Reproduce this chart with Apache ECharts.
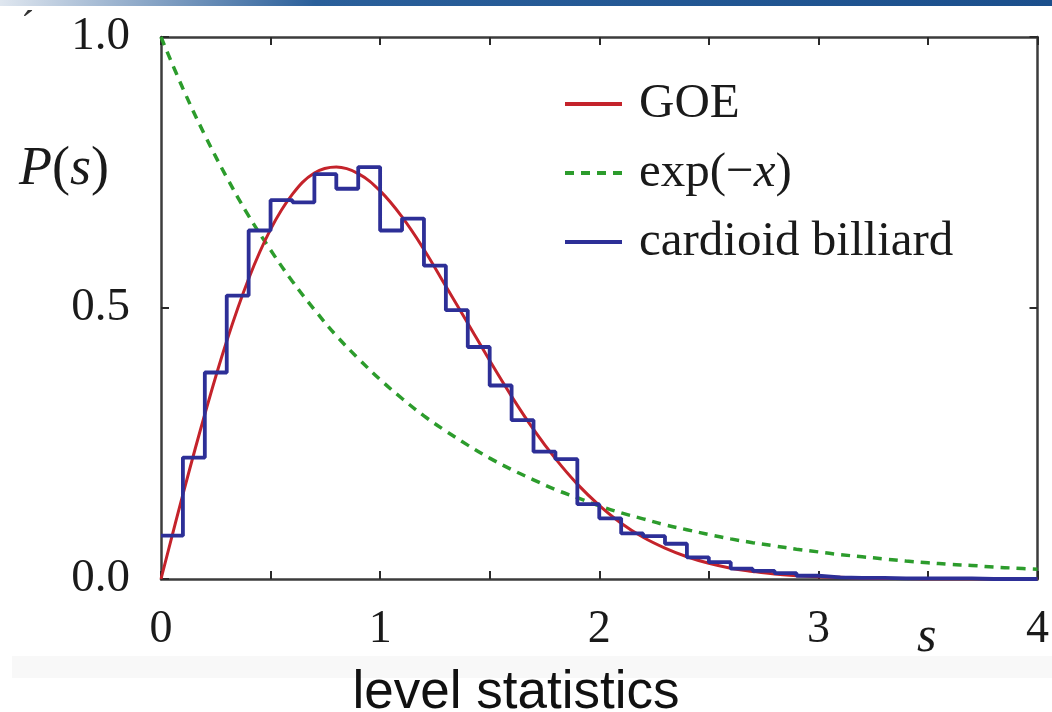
<!DOCTYPE html>
<html>
<head>
<meta charset="utf-8">
<script src="https://cdn.jsdelivr.net/npm/echarts@6/dist/echarts.min.js"></script>
<style>
  html, body { margin: 0; padding: 0; background: #ffffff; }
  #chart { width: 1052px; height: 712px; }
</style>
</head>
<body>
<div id="chart"></div>
<script>
// ---- data ----
const seriesNames = ['GOE', 'exp(−x)', 'cardioid billiard'];
// sample positions for the two smooth curves
const curveS = [0,0.1,0.2,0.3,0.4,0.5,0.6,0.7,0.8,0.9,1.0,1.1,1.2,1.3,1.4,1.5,1.6,1.7,1.8,1.9,2.0,
                2.1,2.2,2.3,2.4,2.5,2.6,2.7,2.8,2.9,3.0,3.1,3.2,3.3,3.4,3.5,3.6,3.7,3.8,3.9,4.0];
const goeValues = [0,0.156,0.304,0.439,0.554,0.645,0.710,0.749,0.760,0.748,0.716,0.668,0.608,0.540,0.472,
                   0.403,0.337,0.276,0.222,0.175,0.136,0.103,0.077,0.057,0.041,0.029,0.020,0.014,0.009,
                   0.006,0.004,0.003,0.002,0.001,0.001,0,0,0,0,0,0];
const expValues = [1.000,0.905,0.819,0.741,0.670,0.607,0.549,0.497,0.449,0.407,0.368,0.333,0.301,0.273,
                   0.247,0.223,0.202,0.183,0.165,0.150,0.135,0.122,0.111,0.100,0.091,0.082,0.074,0.067,
                   0.061,0.055,0.050,0.045,0.041,0.037,0.033,0.030,0.027,0.025,0.022,0.020,0.018];
// histogram bins (width 0.1) from s = 0 to 4
const binWidth = 0.1;
const histValues = [0.080,0.224,0.381,0.523,0.643,0.699,0.695,0.747,0.720,0.760,
                    0.643,0.665,0.578,0.496,0.428,0.357,0.293,0.235,0.221,0.138,
                    0.112,0.084,0.079,0.065,0.040,0.031,0.019,0.015,0.011,0.006,
                    0.003,0.002,0.002,0.001,0.001,0.001,0.001,0,0,0];
const xTicks = [0,1,2,3,4];
const yTicks = ['0.0','0.5','1.0'];

// ---- build series data ----
const goeData = curveS.map((s, i) => [s, goeValues[i]]);
const expData = curveS.map((s, i) => [s, expValues[i]]);
const histData = histValues.map((v, i) => [+(i * binWidth).toFixed(2), v]);
histData.push([+(histValues.length * binWidth).toFixed(2), histValues[histValues.length - 1]]);

const SERIF = '"Liberation Serif", "DejaVu Serif", serif';
const FRAME = '#3c3c3c';
const RED = '#c4232b', GREEN = '#2c9c2c', BLUE = '#2d2f97';

const chart = echarts.init(document.getElementById('chart'), null, { renderer: 'canvas' });

const tickStyle = { show: true, inside: true, length: 8, lineStyle: { color: '#2a2a2a', width: 2 } };
const lineStyleAxis = { show: true, onZero: false, lineStyle: { color: FRAME, width: 2.5 } };

const solidIcon = 'path://M0,0H57V4H0Z';
const dashIcon = 'path://M0,0H9V4H0Z M16,0H25V4H16Z M32,0H41V4H32Z M48,0H57V4H48Z';

chart.setOption({
  backgroundColor: '#ffffff',
  animation: false,
  grid: { left: 161, right: 14, top: 37, bottom: 133, containLabel: false },
  xAxis: [
    {
      type: 'value', position: 'bottom', min: 0, max: 4, interval: 0.5,
      axisLine: lineStyleAxis, axisTick: tickStyle, splitLine: { show: false },
      axisLabel: {
        margin: 28, color: '#1a1a1a', fontFamily: SERIF, fontSize: 46,
        formatter: v => (xTicks.indexOf(v) >= 0 ? String(v) : '')
      }
    },
    {
      type: 'value', position: 'top', min: 0, max: 4, interval: 0.5,
      axisLine: lineStyleAxis, axisTick: tickStyle, splitLine: { show: false },
      axisLabel: { show: false }
    }
  ],
  yAxis: [
    {
      type: 'value', position: 'left', min: 0, max: 1, interval: 0.5,
      axisLine: lineStyleAxis, axisTick: tickStyle, splitLine: { show: false },
      axisLabel: {
        margin: 31, color: '#1a1a1a', fontFamily: SERIF, fontSize: 47,
        formatter: v => { const t = v.toFixed(1); return yTicks.indexOf(t) >= 0 ? t : ''; }
      }
    },
    {
      type: 'value', position: 'right', min: 0, max: 1, interval: 0.5,
      axisLine: lineStyleAxis, axisTick: tickStyle, splitLine: { show: false },
      axisLabel: { show: false }
    }
  ],
  legend: {
    orient: 'vertical', left: 560, top: 74,
    itemWidth: 57, itemHeight: 4, itemGap: 19,
    data: [
      { name: seriesNames[0], icon: solidIcon, itemStyle: { color: RED } },
      { name: seriesNames[1], icon: dashIcon, itemStyle: { color: GREEN } },
      { name: seriesNames[2], icon: solidIcon, itemStyle: { color: BLUE } }
    ],
    formatter: name => {
      if (name === 'exp(−x)') return '{p|exp(−}{i|x}{n|)}';
      return '{p|' + name + '}';
    },
    textStyle: {
      fontFamily: SERIF, fontSize: 49, color: '#1a1a1a', lineHeight: 50,
      rich: {
        p: { fontFamily: SERIF, fontSize: 49, color: '#1a1a1a', padding: [0, 0, 0, 12], lineHeight: 50 },
        n: { fontFamily: SERIF, fontSize: 49, color: '#1a1a1a', lineHeight: 50 },
        i: { fontFamily: SERIF, fontSize: 49, color: '#1a1a1a', fontStyle: 'italic', lineHeight: 50 }
      }
    }
  },
  series: [
    {
      name: seriesNames[0], type: 'line', data: goeData, smooth: 0.4,
      symbol: 'none', showSymbol: false, z: 3,
      lineStyle: { color: RED, width: 3 }, itemStyle: { color: RED }
    },
    {
      name: seriesNames[1], type: 'line', data: expData, smooth: 0.4,
      symbol: 'none', showSymbol: false, z: 2,
      lineStyle: { color: GREEN, width: 3.5, type: [9, 7] }, itemStyle: { color: GREEN }
    },
    {
      name: seriesNames[2], type: 'line', data: histData, step: 'end',
      symbol: 'none', showSymbol: false, z: 4,
      lineStyle: { color: BLUE, width: 3.8 }, itemStyle: { color: BLUE }
    }
  ],
  graphic: [
    {
      type: 'rect', z: -1, silent: true,
      shape: { x: 0, y: 0, width: 1052, height: 6 },
      style: {
        fill: new echarts.graphic.LinearGradient(0, 0, 1, 0, [
          { offset: 0, color: 'rgba(40,90,150,0.15)' },
          { offset: 0.3, color: '#2a5f9a' },
          { offset: 1, color: '#1b4f8c' }
        ])
      }
    },
    {
      type: 'rect', z: -1, silent: true,
      shape: { x: 12, y: 656, width: 1040, height: 22 },
      style: { fill: '#f8f8f8' }
    },
    {
      type: 'text', silent: true,
      style: { text: '´', x: 21, y: 7, font: '40px ' + SERIF, fill: '#333' }
    },
    {
      type: 'text', silent: true,
      style: {
        x: 19, y: 170, verticalAlign: 'middle',
        text: '{i|P}{n|(}{i|s}{n|)}',
        rich: {
          i: { fontFamily: SERIF, fontSize: 54, fontStyle: 'italic', fill: '#1a1a1a' },
          n: { fontFamily: SERIF, fontSize: 54, fill: '#1a1a1a' }
        }
      }
    },
    {
      type: 'text', silent: true,
      style: {
        x: 917, y: 638, verticalAlign: 'middle',
        text: 's', font: 'italic 50px ' + SERIF, fill: '#1a1a1a'
      }
    },
    {
      type: 'text', silent: true,
      style: {
        x: 516, y: 693, align: 'center', verticalAlign: 'middle',
        text: 'level statistics', font: '53px "Liberation Sans", Arial, sans-serif', fill: '#111'
      }
    }
  ]
});
</script>
</body>
</html>
